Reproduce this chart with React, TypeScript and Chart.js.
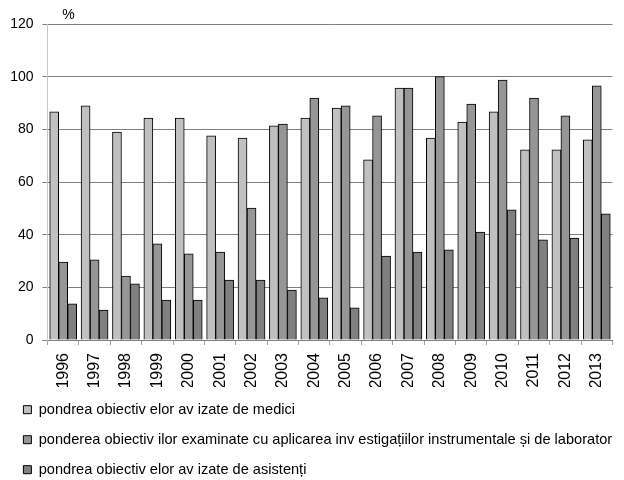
import React, { useEffect, useRef } from "react";
import { Chart, registerables } from "chart.js";

Chart.register(...registerables);

const years = ["1996", "1997", "1998", "1999", "2000", "2001", "2002", "2003", "2004", "2005", "2006", "2007", "2008", "2009", "2010", "2011", "2012", "2013"];

const seriesNames = [
  "pondrea obiectiv elor av izate de medici",
  "ponderea obiectiv ilor examinate cu aplicarea inv estigațiilor instrumentale și de laborator",
  "pondrea obiectiv elor av izate de asistenți",
];

const medici = [86.6, 88.9, 79.0, 84.3, 84.3, 77.5, 76.7, 81.3, 84.3, 88.1, 68.4, 95.7, 76.7, 82.8, 86.6, 72.2, 72.2, 76.0];
const investigatii = [29.6, 30.4, 24.3, 36.5, 32.7, 33.4, 50.1, 82.0, 91.9, 88.9, 85.1, 95.7, 100, 89.6, 98.7, 91.9, 85.1, 96.5];
const asistenti = [13.7, 11.4, 21.3, 15.2, 15.2, 22.8, 22.8, 19.0, 16.0, 12.2, 31.9, 33.4, 34.2, 41.0, 49.4, 38.0, 38.7, 47.9];

const yTicks = [0, 20, 40, 60, 80, 100, 120];
const unitLabel = "%";

const colors = ["#c0c0c0", "#969696", "#808080"];
const FONT = "'Liberation Sans', Arial, sans-serif";

const unitPlugin = {
  id: "unitLabel",
  afterDraw(chart: any) {
    const { ctx, chartArea } = chart;
    ctx.save();
    ctx.fillStyle = "#000";
    ctx.font = `14px ${FONT}`;
    ctx.textAlign = "center";
    ctx.textBaseline = "middle";
    ctx.fillText(unitLabel, chartArea.left + 21, chartArea.top - 9);
    ctx.restore();
  },
};

export default function App() {
  const ref = useRef<HTMLCanvasElement>(null);
  useEffect(() => {
    if (!ref.current) return;
    const values = [medici, investigatii, asistenti];
    const chart = new Chart(ref.current, {
      type: "bar",
      data: {
        labels: years,
        datasets: values.map((v, i) => ({
          label: seriesNames[i],
          data: v,
          backgroundColor: colors[i],
          borderColor: "#000",
          borderWidth: 1,
          barThickness: 9,
        })),
      },
      options: {
        responsive: false,
        animation: false,
        devicePixelRatio: 1,
        layout: { padding: { left: 8, right: 0.5, top: 24, bottom: -7 } },
        plugins: {
          tooltip: { enabled: false },
          title: { display: false },
          legend: {
            position: "bottom",
            align: "start",
            labels: {
              boxWidth: 8,
              boxHeight: 8,
              padding: 15.4,
              color: "#000",
              font: { family: FONT, size: 14.6 },
            },
          },
        },
        scales: {
          x: {
            afterFit: (axis: any) => {
              axis.height = 47;
            },
            grid: {
              offset: true,
              drawOnChartArea: false,
              drawTicks: true,
              tickLength: 5,
              color: "#a0a0a0",
            },
            border: { color: "#808080" },
            ticks: {
              minRotation: 90,
              maxRotation: 90,
              autoSkip: false,
              padding: 8,
              color: "#000",
              font: { family: FONT, size: 16 },
            },
          },
          y: {
            min: 0,
            max: 120,
            afterFit: (axis: any) => {
              axis.width = 39.5;
            },
            afterBuildTicks: (axis: any) => {
              axis.ticks = yTicks.map((v) => ({ value: v }));
            },
            grid: {
              color: "#808080",
              tickLength: 5,
              drawTicks: true,
            },
            border: { color: "#c8c8c8" },
            ticks: {
              padding: 9,
              color: "#000",
              font: { family: FONT, size: 14 },
            },
          },
        },
      },
      plugins: [unitPlugin],
    });
    return () => chart.destroy();
  }, []);
  return (
    <div style={{ position: "absolute", left: 0, top: 0, width: 624, height: 480, background: "#fff" }}>
      <canvas ref={ref} width={624} height={480} />
    </div>
  );
}
